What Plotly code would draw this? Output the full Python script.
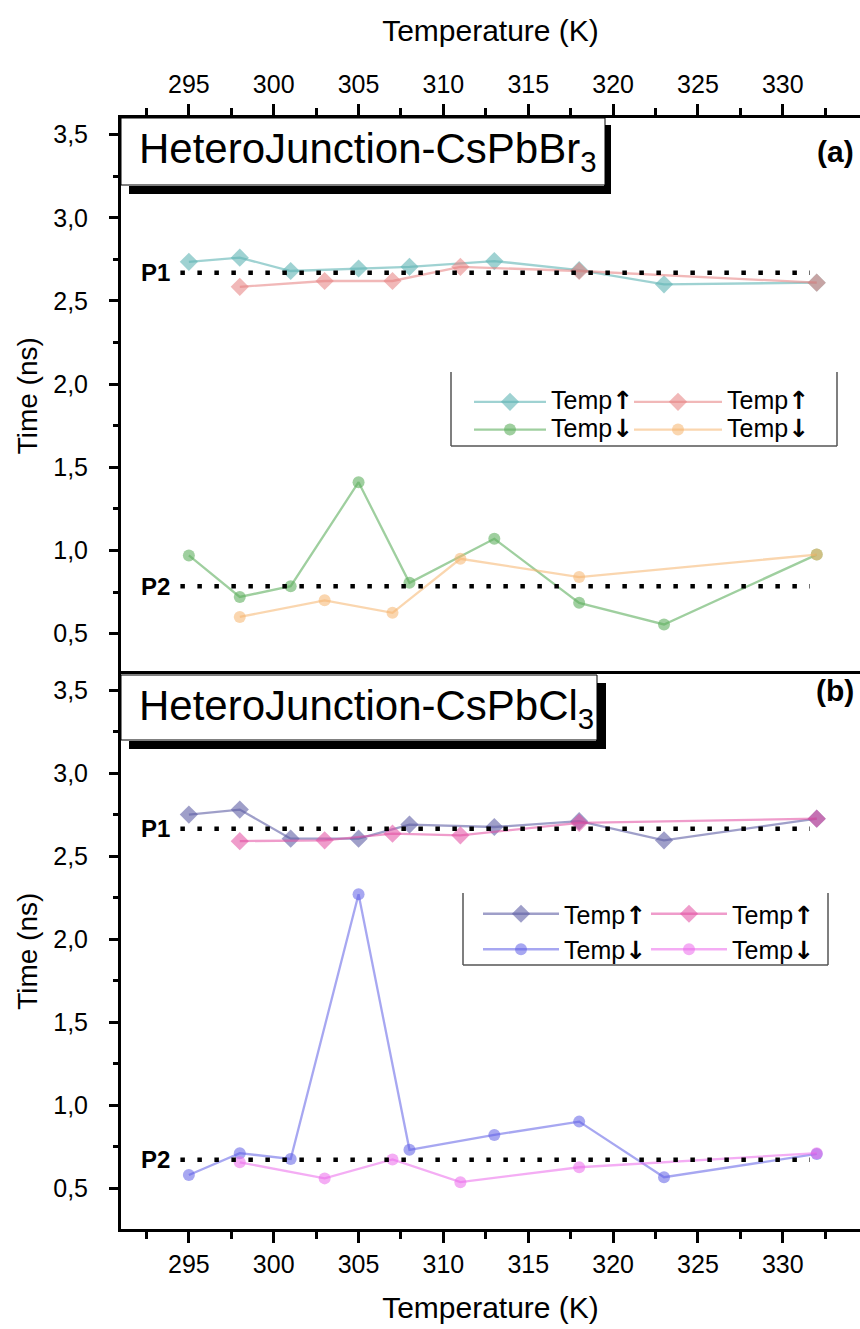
import plotly.graph_objects as go

# ---------------- data ----------------
temps_full = [295, 298, 301, 305, 308, 313, 318, 323, 332]
temps_part = [298, 303, 307, 311, 318, 332]

# panel (a) HeteroJunction-CsPbBr3
a_p1_up = [2.735, 2.76, 2.68, 2.695, 2.705, 2.74, 2.685, 2.60, 2.61]
a_p2_down = [0.97, 0.72, 0.785, 1.41, 0.805, 1.07, 0.685, 0.555, 0.975]
a_p1_up2 = [2.585, 2.62, 2.62, 2.705, 2.68, 2.61]
a_p2_down2 = [0.60, 0.70, 0.625, 0.95, 0.84, 0.975]

# panel (b) HeteroJunction-CsPbCl3
b_p1_up = [2.75, 2.78, 2.605, 2.605, 2.69, 2.675, 2.71, 2.595, 2.725]
b_p2_down = [0.578, 0.71, 0.675, 2.27, 0.73, 0.82, 0.90, 0.565, 0.705]
b_p1_up2 = [2.59, 2.595, 2.635, 2.625, 2.70, 2.725]
b_p2_down2 = [0.655, 0.558, 0.672, 0.535, 0.625, 0.71]

# reference levels (dotted lines)
ref_x = [294.5, 331.6]
a_levels = {"P1": 2.67, "P2": 0.785}
b_levels = {"P1": 2.665, "P2": 0.67}

x_ticks = [295, 300, 305, 310, 315, 320, 325, 330]
y_ticks = [0.5, 1.0, 1.5, 2.0, 2.5, 3.0, 3.5]

FONT = "Liberation Sans, Arial, sans-serif"
W, H = 860, 1329
ML, MR, MT, MB = 121, 0, 118, 100
PW, PH = W - ML - MR, H - MT - MB


def px_x(p):
    return (p - ML) / PW


def px_y(p):
    return (H - MB - p) / PH


fig = go.Figure()

ARROW = "<span style=\"font-family:'DejaVu Sans';font-size:25px\"><b>%s</b></span>"


def label(arrow, size):
    return "<span style=\"font-size:%dpx\">Temp</span>" % size + ARROW % arrow


def add(xs, ys, color, symbol, name, xa, ya, legend, size):
    fig.add_trace(go.Scatter(
        x=xs, y=ys, mode="lines+markers", name=name,
        line=dict(color=color, width=2.3),
        marker=dict(color=color, symbol=symbol, size=size, line=dict(width=0)),
        xaxis=xa, yaxis=ya, legend=legend, showlegend=True))


UP, DN = "\u2191", "\u2193"

# panel (a) -> x2 / y2
add(temps_full, a_p1_up, "rgba(95,180,180,0.6)", "diamond", label(UP, 25), "x2", "y2", "legend", 14)
add(temps_full, a_p2_down, "rgba(95,175,95,0.6)", "circle", label(DN, 25), "x2", "y2", "legend", 12)
add(temps_part, a_p1_up2, "rgba(230,125,125,0.55)", "diamond", label(UP, 25), "x2", "y2", "legend2", 14)
add(temps_part, a_p2_down2, "rgba(245,180,110,0.55)", "circle", label(DN, 25), "x2", "y2", "legend2", 12)

# panel (b) -> x / y
add(temps_full, b_p1_up, "rgba(95,95,165,0.6)", "diamond", label(UP, 25), "x", "y", "legend3", 14)
add(temps_full, b_p2_down, "rgba(95,95,230,0.55)", "circle", label(DN, 25), "x", "y", "legend3", 12)
add(temps_part, b_p1_up2, "rgba(225,75,160,0.55)", "diamond", label(UP, 25), "x", "y", "legend4", 14)
add(temps_part, b_p2_down2, "rgba(235,105,235,0.55)", "circle", label(DN, 25), "x", "y", "legend4", 12)

# dotted reference levels
for levels, xa, ya in [(a_levels, "x2", "y2"), (b_levels, "x", "y")]:
    for lab, val in levels.items():
        fig.add_trace(go.Scatter(
            x=ref_x, y=[val, val], mode="lines", showlegend=False,
            line=dict(color="black", width=4.5, dash="4.5px,12.5px"),
            xaxis=xa, yaxis=ya))
        fig.add_annotation(
            x=ref_x[0] - 0.5, y=val, xref=xa, yref=ya, text="<b>%s</b>" % lab,
            showarrow=False, xanchor="right", yanchor="middle",
            font=dict(family=FONT, size=24, color="black"))

axis_common = dict(
    showline=True, linecolor="black", linewidth=3,
    ticks="outside", tickcolor="black", tickwidth=2.5,
    tickfont=dict(family=FONT, size=25, color="black"),
    showgrid=False, zeroline=False,
)
xminor = dict(dtick=2.5, tick0=292.5, ticks="outside", ticklen=7,
              tickwidth=2.5, tickcolor="black", showgrid=False)
yminor = dict(dtick=0.25, tick0=0.25, ticks="outside", ticklen=5,
              tickwidth=2.5, tickcolor="black", showgrid=False)

fig.update_layout(
    width=W, height=H,
    margin=dict(l=ML, r=MR, t=MT, b=MB),
    paper_bgcolor="white", plot_bgcolor="white",
    separators=",.",
    font=dict(family=FONT, color="black"),
    xaxis=dict(
        **axis_common, anchor="y", range=[291, 334.55], domain=[0, 1],
        tickvals=x_ticks, ticklen=11, mirror=True, ticklabelstandoff=0,
        minor=xminor,
        title=dict(text="Temperature (K)", font=dict(family=FONT, size=30),
                   standoff=20),
    ),
    xaxis2=dict(
        **axis_common, anchor="y2", side="top", matches="x", range=[291, 334.55],
        tickvals=x_ticks, ticklen=11, ticklabelstandoff=1,
        minor=xminor,
        title=dict(text="Temperature (K)", font=dict(family=FONT, size=30),
                   standoff=20),
    ),
    yaxis=dict(
        **axis_common, anchor="x", domain=[0, 0.5], range=[0.253, 3.6],
        tickvals=y_ticks, tickformat=".1f", ticklen=9, ticklabelstandoff=16,
        minor=yminor,
        title=dict(text="Time (ns)", font=dict(family=FONT, size=28), standoff=8),
    ),
    yaxis2=dict(
        **axis_common, anchor="x2", domain=[0.5, 1], range=[0.26, 3.6],
        tickvals=y_ticks, tickformat=".1f", ticklen=9, ticklabelstandoff=16,
        minor=yminor,
        title=dict(text="Time (ns)", font=dict(family=FONT, size=28), standoff=8),
    ),
)

leg_common = dict(bgcolor="rgba(0,0,0,0)", borderwidth=0,
                  orientation="v", xanchor="left", yanchor="top",
                  tracegroupgap=0, itemclick=False)
fig.update_layout(
    legend=dict(**leg_common, x=px_x(469), y=px_y(383), itemwidth=72,
                font=dict(family=FONT, size=19, color="black")),
    legend2=dict(**leg_common, x=px_x(629), y=px_y(383), itemwidth=88,
                 font=dict(family=FONT, size=19, color="black")),
    legend3=dict(**leg_common, x=px_x(478), y=px_y(891), itemwidth=76,
                 font=dict(family=FONT, size=25, color="black")),
    legend4=dict(**leg_common, x=px_x(646), y=px_y(891), itemwidth=76,
                 font=dict(family=FONT, size=25, color="black")),
)

shapes = []
# legend frames (left, right, bottom)
for (l, r, t, b) in [(451, 837, 372, 446), (463, 828, 893, 965)]:
    for (x0, y0, x1, y1) in [(l, t, l, b), (r, t, r, b), (l, b, r, b)]:
        shapes.append(dict(type="line", xref="paper", yref="paper",
                           x0=px_x(x0), x1=px_x(x1), y0=px_y(y0), y1=px_y(y1),
                           line=dict(color="#555", width=1.5)))

# title boxes with shadow
for (top, bot, right, sright, bartop) in [(118, 185, 605, 611, 125), (675, 740, 597, 606, 683)]:
    shapes.append(dict(type="rect", xref="paper", yref="paper",
                       x0=px_x(129), x1=px_x(sright), y0=px_y(bot + 9), y1=px_y(bot + 1),
                       fillcolor="black", line=dict(width=0)))
    shapes.append(dict(type="rect", xref="paper", yref="paper",
                       x0=px_x(right - 1), x1=px_x(sright), y0=px_y(bot + 9), y1=px_y(bartop),
                       fillcolor="black", line=dict(width=0)))
    shapes.append(dict(type="rect", xref="paper", yref="paper",
                       x0=px_x(121), x1=px_x(right), y0=px_y(bot), y1=px_y(top),
                       fillcolor="white", line=dict(color="black", width=1)))
fig.update_layout(shapes=shapes)

for text, ycen in [("HeteroJunction-CsPbBr<sub>3</sub>", 152), ("HeteroJunction-CsPbCl<sub>3</sub>", 708)]:
    fig.add_annotation(x=px_x(137), y=px_y(ycen), xref="paper", yref="paper",
                       text=text, showarrow=False, xanchor="left", yanchor="middle",
                       font=dict(family=FONT, size=42, color="black"))

for text, ycen in [("<b>(a)</b>", 152), ("<b>(b)</b>", 690)]:
    fig.add_annotation(x=px_x(856), y=px_y(ycen), xref="paper", yref="paper",
                       text=text, showarrow=False, xanchor="right", yanchor="middle",
                       font=dict(family=FONT, size=30, color="black"))

fig.write_html("out.html", config={"displayModeBar": False})

# remove default page margin so the figure sits at the window origin
with open("out.html", "r", encoding="utf-8") as f:
    html = f.read()
html = html.replace("<head>", "<head><style>html,body{margin:0;padding:0;overflow:hidden;}</style>", 1)
with open("out.html", "w", encoding="utf-8") as f:
    f.write(html)
